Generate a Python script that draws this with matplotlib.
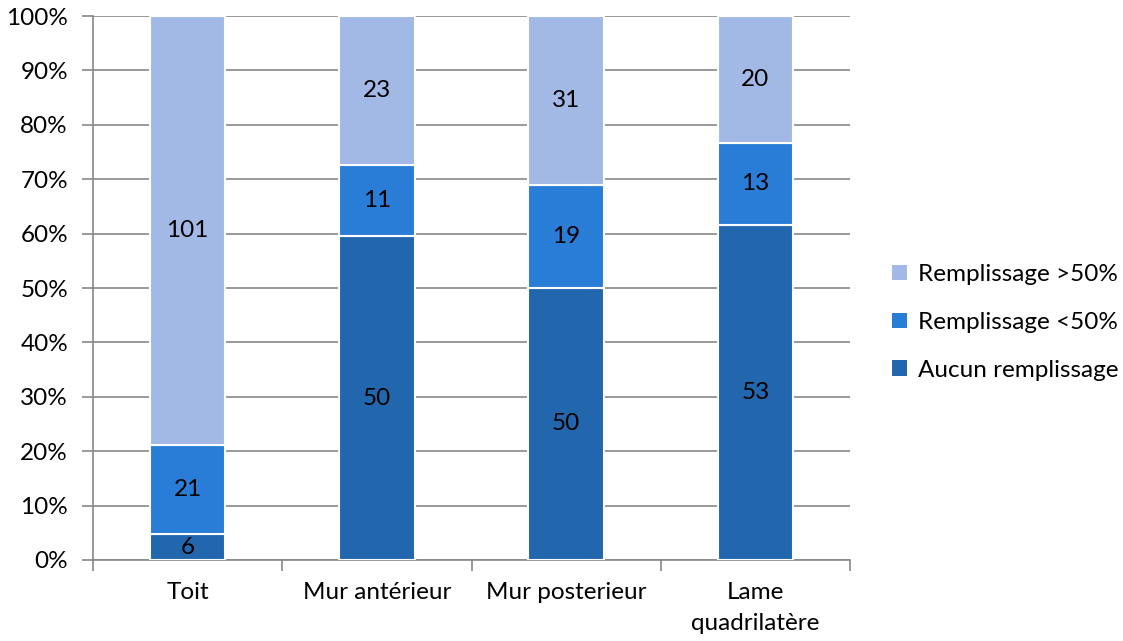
import numpy as np
import matplotlib.pyplot as plt
from matplotlib.ticker import PercentFormatter, FixedLocator

categories = ['Toit', 'Mur antérieur', 'Mur posterieur', 'Lame\nquadrilatère']
aucun = np.array([6, 50, 50, 53])
moins50 = np.array([21, 11, 19, 13])
plus50 = np.array([101, 23, 31, 20])
series_names = ['Aucun remplissage', 'Remplissage <50%', 'Remplissage >50%']
colors = ['#2266AE', '#2A7DD6', '#A3B9E5']

plt.rcParams['font.family'] = ['Lato', 'DejaVu Sans']
fs = 17.5

counts = np.vstack([aucun, moins50, plus50])
totals = counts.sum(axis=0)
shares = counts / totals * 100

fig = plt.figure(figsize=(11.23, 6.41), dpi=100)
ax = fig.add_axes([0.0828, 0.1264, 0.6742, 0.8486])

x = np.arange(len(categories))
bottom = np.zeros(len(categories))
handles = []
for i in range(3):
    bars = ax.bar(x, shares[i], 0.40, bottom=bottom, color=colors[i],
                  edgecolor='white', linewidth=1.5, zorder=3, label=series_names[i])
    handles.append(bars)
    for xi, b, h, c in zip(x, bottom, shares[i], counts[i]):
        ax.text(xi, b + h / 2, str(c), ha='center', va='center',
                fontsize=fs, color='black', zorder=4)
    bottom += shares[i]

ax.set_xlim(-0.5, 3.5)
ax.set_ylim(0, 100)
ax.set_yticks(np.arange(0, 101, 10))
ax.yaxis.set_major_formatter(PercentFormatter(decimals=0))
ax.yaxis.grid(True, color='#888888', linewidth=1.2, zorder=0)

ax.set_xticks(x)
ax.set_xticklabels(categories, fontsize=fs, linespacing=1.6)
ax.tick_params(axis='x', which='major', length=0, pad=16)
ax.xaxis.set_minor_locator(FixedLocator(np.arange(-0.5, 3.6, 1)))
ax.tick_params(axis='x', which='minor', length=8, color='#888888', width=1.2)
ax.tick_params(axis='y', length=8, color='#888888', width=1.2, labelsize=fs, pad=10)

for side in ['top', 'right']:
    ax.spines[side].set_visible(False)
for side in ['left', 'bottom']:
    ax.spines[side].set_color('#888888')
    ax.spines[side].set_linewidth(1.2)

leg = fig.legend(handles[::-1], series_names[::-1], loc='center left',
                 bbox_to_anchor=(0.775, 0.497), frameon=False, fontsize=fs,
                 handlelength=0.6, handleheight=0.6, handletextpad=0.45,
                 labelspacing=1.1)
for p in leg.get_patches():
    p.set_edgecolor('none')

fig.savefig('out.png', dpi=100)
